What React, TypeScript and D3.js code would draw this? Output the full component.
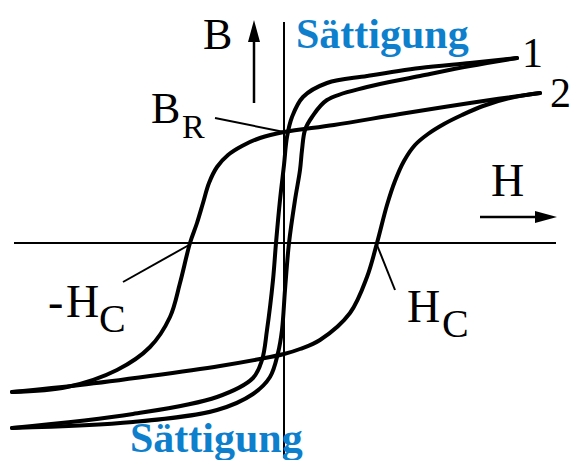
import React from "react";
import * as d3 from "d3";

// Hysteresis loops in (H, B) units; origin at the crossing of the axes.
// Loop 1: soft magnetic material (narrow), loop 2: hard magnetic material (wide).
const loop1Descending: [number, number][] = [
  [2.33, 1.85], [1.86, 1.8], [1.36, 1.75], [0.83, 1.67], [0.43, 1.6],
  [0.19, 1.46], [0.08, 1.26], [0.03, 1.06], [0.0, 0.78], [-0.04, 0.43],
  [-0.08, 0.0], [-0.11, -0.37], [-0.17, -0.87], [-0.22, -1.17],
  [-0.31, -1.35], [-0.67, -1.54], [-1.51, -1.71], [-2.72, -1.85],
];
const loop1Ascending: [number, number][] = [
  [-2.72, -1.85], [-1.51, -1.79], [-0.67, -1.67], [-0.31, -1.51],
  [-0.14, -1.34], [-0.06, -1.1], [-0.02, -0.87], [0.01, -0.47], [0.05, 0.0],
  [0.11, 0.43], [0.16, 0.73], [0.18, 0.93], [0.21, 1.13], [0.28, 1.26],
  [0.43, 1.43], [0.83, 1.56], [1.36, 1.67], [1.86, 1.77], [2.33, 1.85],
];
const loop2Descending: [number, number][] = [
  [2.56, 1.5], [1.86, 1.4], [1.16, 1.29], [0.5, 1.18], [0.0, 1.11],
  [-0.24, 1.05], [-0.42, 0.97], [-0.56, 0.88], [-0.67, 0.76], [-0.75, 0.6],
  [-0.81, 0.4], [-0.87, 0.2], [-0.94, 0.0],
  [-1.04, -0.4], [-1.14, -0.74], [-1.34, -1.04], [-1.67, -1.27],
  [-2.17, -1.44], [-2.72, -1.49],
];
const loop2Ascending: [number, number][] = [
  [-2.72, -1.49], [-2.04, -1.42], [-1.34, -1.33], [-0.64, -1.23],
  [-0.24, -1.16], [0.0, -1.11], [0.16, -1.06], [0.36, -0.97], [0.66, -0.7],
  [0.83, -0.34], [0.93, 0.0], [1.03, 0.38], [1.11, 0.62], [1.2, 0.82],
  [1.31, 0.98], [1.44, 1.09], [1.6, 1.19], [1.78, 1.28], [1.99, 1.37],
  [2.26, 1.45], [2.56, 1.5],
];

// Characteristic values of loop 2
const remanence = 1.11; // B_R
const coercivityNeg = -0.94; // -H_C
const coercivityPos = 0.93; // H_C

const loopLabels = ["1", "2"];
const saturationLabel = "Sättigung";

const W = 574;
const H = 460;
const x = d3.scaleLinear().domain([-2.7, 2.9]).range([14, 574]);
const y = d3.scaleLinear().domain([2.43, -2.17]).range([0, 460]);

const line = d3
  .line<[number, number]>()
  .x((d) => x(d[0]))
  .y((d) => y(d[1]))
  .curve(d3.curveCatmullRom.alpha(0.5));

const serif = "'Liberation Serif', 'Times New Roman', serif";
const blue = "#0d7fcc";

export default function App() {
  const ox = x(0);
  const oy = y(0);
  const curves = [loop1Descending, loop1Ascending, loop2Descending, loop2Ascending];
  const end1 = loop1Descending[0];
  const end2 = loop2Descending[0];
  return (
    <svg
      width={W}
      height={H}
      style={{ position: "absolute", left: 0, top: 0, background: "#fff" }}
    >
      {/* axes */}
      <line x1={14} x2={556} y1={oy} y2={oy} stroke="#000" strokeWidth={2} />
      <line x1={ox} x2={ox} y1={22} y2={458} stroke="#000" strokeWidth={2} />

      {/* loops */}
      {curves.map((c, i) => (
        <path
          key={i}
          d={line(c) ?? ""}
          fill="none"
          stroke="#000"
          strokeWidth={4}
          strokeLinecap="round"
        />
      ))}

      {/* B arrow */}
      <line x1={254} x2={254} y1={103} y2={38} stroke="#000" strokeWidth={2.5} />
      <polygon points="254,20 248,42 260,42" fill="#000" />
      <text x={203} y={49} fontFamily={serif} fontSize={44}>B</text>

      {/* H arrow */}
      <line x1={480} x2={538} y1={217} y2={217} stroke="#000" strokeWidth={2.5} />
      <polygon points="557,217 535,211 535,223" fill="#000" />
      <text x={491} y={196} fontFamily={serif} fontSize={46}>H</text>

      {/* B_R */}
      <line
        x1={215}
        y1={118}
        x2={x(0)}
        y2={y(remanence)}
        stroke="#000"
        strokeWidth={2}
      />
      <text x={151} y={123} fontFamily={serif} fontSize={44}>B</text>
      <text x={182} y={138} fontFamily={serif} fontSize={34}>R</text>

      {/* -H_C */}
      <line
        x1={123}
        y1={282}
        x2={x(coercivityNeg) - 1}
        y2={oy + 2}
        stroke="#000"
        strokeWidth={2}
      />
      <text x={48} y={317} fontFamily={serif} fontSize={46}>-</text>
      <text x={66} y={317} fontFamily={serif} fontSize={46}>H</text>
      <text x={99} y={332} fontFamily={serif} fontSize={40}>C</text>

      {/* H_C */}
      <line
        x1={x(coercivityPos)}
        y1={oy + 2}
        x2={395}
        y2={290}
        stroke="#000"
        strokeWidth={2}
      />
      <text x={407} y={322} fontFamily={serif} fontSize={46}>H</text>
      <text x={442} y={337} fontFamily={serif} fontSize={40}>C</text>

      {/* loop numbers */}
      <text x={x(end1[0]) + 5} y={y(end1[1]) + 9} fontFamily={serif} fontSize={42}>
        {loopLabels[0]}
      </text>
      <text x={x(end2[0]) + 10} y={y(end2[1]) + 14} fontFamily={serif} fontSize={42}>
        {loopLabels[1]}
      </text>

      {/* saturation */}
      <text x={296} y={48} fontFamily={serif} fontSize={42} fontWeight="bold" fill={blue}>
        {saturationLabel}
      </text>
      <text x={130} y={452} fontFamily={serif} fontSize={42} fontWeight="bold" fill={blue}>
        {saturationLabel}
      </text>
    </svg>
  );
}
